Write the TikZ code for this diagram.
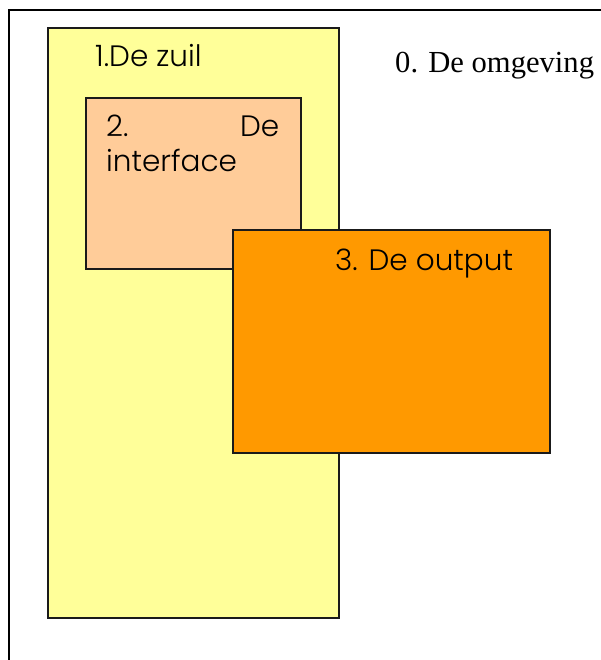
\documentclass[tikz,border=0pt]{standalone}
\usepackage{fontspec}
\setmainfont{Liberation Serif}
\newfontfamily\gothic{Poppins Light}
\definecolor{zuilfill}{HTML}{FFFF99}
\definecolor{ifacefill}{HTML}{FFCC99}
\definecolor{outfill}{HTML}{FF9900}
\definecolor{edge}{HTML}{1A1A1A}
\begin{document}
\begin{tikzpicture}[x=1pt,y=-1pt,
  block/.style={draw=edge, line width=2pt, anchor=north west, inner sep=0pt},
  label/.style={anchor=base west, inner sep=0pt, font=\gothic\fontsize{29.5}{35}\selectfont, text=black}]
  \useasboundingbox (0,0) rectangle (601,660);
  \clip (0,0) rectangle (601,660);
  % surroundings frame (runs past the page on the right and bottom)
  \draw[line width=2.8pt, black] (9,10) rectangle (720,780);
  \node[anchor=base west, inner sep=0pt, font=\fontsize{30.6}{36}\selectfont] (omg) at (395,73) {0. De omgeving};
  % the column
  \node[block, fill=zuilfill, minimum width=291pt, minimum height=590pt] (zuil) at (47,27) {};
  \node[label] (zuiltxt) at (95,67) {1.De zuil};
  % the interface
  \node[block, fill=ifacefill, minimum width=215pt, minimum height=171pt] (iface) at (85,97) {};
  \node[label] (ifacetxt) at (106,137) {\hbox to 173pt{2.\hfill De}};
  \node[label] (ifacetxt2) at (106,172) {interface};
  % the output
  \node[block, fill=outfill, minimum width=317pt, minimum height=223pt] (out) at (232,229) {};
  \node[label] (outtxt) at (335,270) {3. De output};
\end{tikzpicture}
\end{document}
